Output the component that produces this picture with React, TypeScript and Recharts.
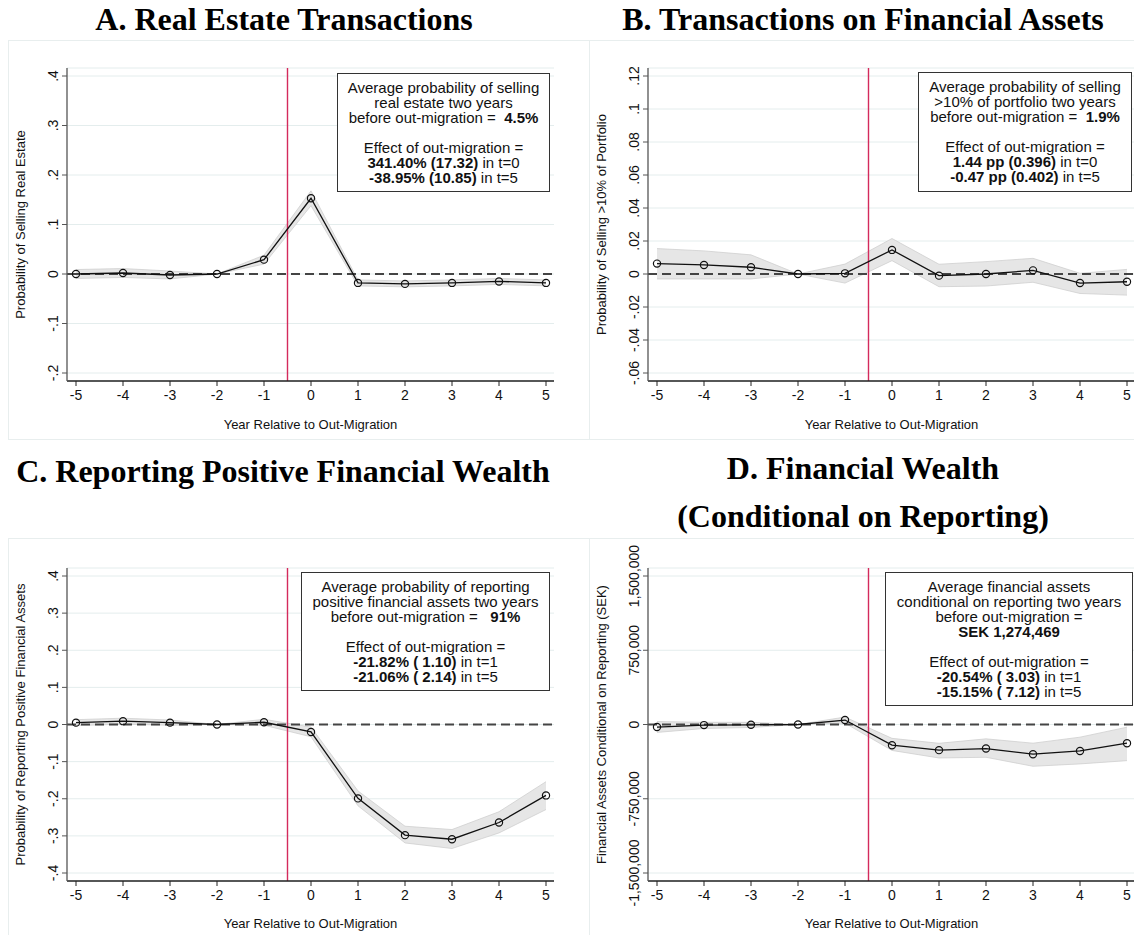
import {
  Area,
  CartesianGrid,
  ComposedChart,
  Line,
  ReferenceLine,
  XAxis,
  YAxis,
} from "recharts";

const years = [-5, -4, -3, -2, -1, 0, 1, 2, 3, 4, 5];

// A. real estate
const realEstateEst = [0, 0.002, -0.002, 0, 0.029, 0.153, -0.018, -0.02, -0.018, -0.015, -0.018];
const realEstateLo = [-0.009, -0.007, -0.01, 0, 0.02, 0.138, -0.024, -0.026, -0.024, -0.021, -0.024];
const realEstateHi = [0.009, 0.011, 0.006, 0, 0.038, 0.168, -0.012, -0.014, -0.012, -0.009, -0.012];
const realEstateTicks = [-0.2, -0.1, 0, 0.1, 0.2, 0.3, 0.4];

// B. financial assets sold
const portfolioEst = [0.0063, 0.0055, 0.0041, 0, 0.0004, 0.0146, -0.001, 0, 0.0022, -0.0055, -0.0047];
const portfolioLo = [-0.003, -0.003, -0.003, 0, -0.0055, 0.0081, -0.0077, -0.0073, -0.005, -0.0118, -0.0128];
const portfolioHi = [0.0154, 0.014, 0.0116, 0, 0.006, 0.0215, 0.0059, 0.0075, 0.0095, 0.0004, 0.0028];
const portfolioTicks = [-0.06, -0.04, -0.02, 0, 0.02, 0.04, 0.06, 0.08, 0.1, 0.12];

// C. reporting positive wealth
const reportingEst = [0.005, 0.009, 0.005, 0, 0.006, -0.02, -0.199, -0.298, -0.309, -0.264, -0.191];
const reportingLo = [-0.003, 0.001, -0.002, 0, -0.002, -0.033, -0.219, -0.319, -0.334, -0.292, -0.229];
const reportingHi = [0.013, 0.017, 0.012, 0, 0.014, -0.007, -0.179, -0.274, -0.283, -0.235, -0.154];
const reportingTicks = [-0.4, -0.3, -0.2, -0.1, 0, 0.1, 0.2, 0.3, 0.4];

// D. wealth conditional on reporting (SEK)
const wealthEst = [-26000, -6000, -3000, 0, 45000, -209000, -259000, -243000, -300000, -267000, -189000];
const wealthLo = [-80000, -40000, -30000, 0, 14000, -262000, -338000, -331000, -422000, -398000, -365000];
const wealthHi = [30000, 22000, 22000, 0, 75000, -140000, -190000, -145000, -189000, -128000, -27000];
const wealthTicks = [-1500000, -750000, 0, 750000, 1500000];

const boxA = ["Average probability of selling", "real estate two years", ["before out-migration =  ", "4.5%"], "", "Effect of out-migration =", ["", "341.40% (17.32)", " in t=0"], ["", "-38.95% (10.85)", " in t=5"]];
const boxB = ["Average probability of selling", ">10% of portfolio two years", ["before out-migration =  ", "1.9%"], "", "Effect of out-migration =", ["", "1.44 pp (0.396)", " in t=0"], ["", "-0.47 pp (0.402)", " in t=5"]];
const boxC = ["Average probability of reporting", "positive financial assets two years", ["before out-migration =   ", "91%"], "", "Effect of out-migration =", ["", "-21.82% ( 1.10)", " in t=1"], ["", "-21.06% ( 2.14)", " in t=5"]];
const boxD = ["Average financial assets", "conditional on reporting two years", "before out-migration =", ["", "SEK 1,274,469"], "", "Effect of out-migration =", ["", "-20.54% ( 3.03)", " in t=1"], ["", "-15.15% ( 7.12)", " in t=5"]];

const SANS = "'Liberation Sans', Arial, sans-serif";
const SERIF = "'Liberation Serif', 'Times New Roman', serif";
const RED = "#d42a5c";

const build = (est: number[], lo: number[], hi: number[]) =>
  years.map((x, i) => ({ x, est: est[i], band: [lo[i], hi[i]] }));

// stata style: .4, -.2, 0
const fmtDec = (v: number) =>
  v === 0 ? "0" : String(+v.toFixed(4)).replace(/^(-?)0\./, "$1.");
const fmtSek = (v: number) => v.toLocaleString("en-US");

function YTick(props: any) {
  const { x, y, payload, fmt } = props;
  return (
    <text
      x={x}
      y={y}
      textAnchor="middle"
      transform={`rotate(-90, ${x}, ${y})`}
      fontSize={14}
      fontFamily={SANS}
      fill="#111"
    >
      {fmt(payload.value)}
    </text>
  );
}

function XTick(props: any) {
  const { x, y, payload } = props;
  return (
    <text x={x} y={y + 12} textAnchor="middle" fontSize={14} fontFamily={SANS} fill="#111">
      {payload.value}
    </text>
  );
}

type PanelProps = {
  left: number;
  top: number;
  height: number;
  margin: { top: number; right: number; bottom: number; left: number };
  data: ReturnType<typeof build>;
  ticks: number[];
  fmt: (v: number) => string;
};

function Panel({ left, top, height, margin, data, ticks, fmt }: PanelProps) {
  return (
    <div style={{ position: "absolute", left, top }}>
      <ComposedChart width={570} height={height} data={data} margin={margin}>
        <CartesianGrid vertical={false} stroke="#e4eded" />
        <XAxis
          type="number"
          dataKey="x"
          domain={[-5, 5]}
          ticks={years}
          interval={0}
          padding={{ left: 9, right: 8 }}
          height={50}
          tickSize={5}
          tickMargin={2}
          axisLine={{ stroke: "#222", strokeWidth: 1.3 }}
          tickLine={{ stroke: "#222" }}
          tick={<XTick />}
        />
        <YAxis
          type="number"
          domain={[ticks[0], ticks[ticks.length - 1]]}
          ticks={ticks}
          interval={0}
          padding={{ top: 8, bottom: 8 }}
          width={60}
          tickSize={5}
          tickMargin={4}
          axisLine={{ stroke: "#555", strokeWidth: 1.3 }}
          tickLine={{ stroke: "#555" }}
          tick={(p: any) => <YTick {...p} fmt={fmt} />}
        />
        <Area
          type="linear"
          dataKey="band"
          fill="#e6e6e6"
          fillOpacity={1}
          stroke="#cfcfcf"
          strokeWidth={0.8}
          isAnimationActive={false}
        />
        <ReferenceLine y={0} stroke="#444" strokeWidth={2} strokeDasharray="9 5" />
        <ReferenceLine x={-0.5} stroke={RED} strokeWidth={1.4} />
        <Line
          type="linear"
          dataKey="est"
          stroke="#111"
          strokeWidth={1.3}
          dot={{ r: 3.6, fill: "none", stroke: "#111", strokeWidth: 1.2 }}
          activeDot={false}
          isAnimationActive={false}
        />
      </ComposedChart>
    </div>
  );
}

function NoteBox({ lines, left, top, width, height }: { lines: any[]; left: number; top: number; width: number; height: number }) {
  return (
    <div
      style={{
        position: "absolute",
        left,
        top,
        width,
        height,
        boxSizing: "border-box",
        border: "1px solid #333",
        background: "#fff",
        paddingTop: 6,
        fontFamily: SANS,
        fontSize: 15,
        lineHeight: "15px",
        textAlign: "center",
        color: "#111",
        whiteSpace: "pre",
      }}
    >
      {lines.map((l, i) =>
        typeof l === "string" ? (
          <div key={i}>{l || "\u00a0"}</div>
        ) : (
          <div key={i}>
            {l[0]}
            <b>{l[1]}</b>
            {l[2] ?? ""}
          </div>
        )
      )}
    </div>
  );
}

const xTitle = "Year Relative to Out-Migration";

export default function App() {
  const titleStyle = { fontFamily: SERIF, fontSize: 32, fontWeight: 700, fill: "#000" } as const;
  const axisTitle = { fontFamily: SANS, fontSize: 13, fill: "#111" } as const;
  return (
    <div
      style={{
        position: "absolute",
        left: 0,
        top: 0,
        width: 1134,
        height: 935,
        overflow: "hidden",
        background: "#fff",
      }}
    >
      <svg width={1134} height={935} style={{ position: "absolute", left: 0, top: 0 }}>
        <g fill="none" stroke="#e8eeee" strokeWidth={1}>
          <rect x={8.5} y={40.5} width={581} height={399} />
          <rect x={589.5} y={40.5} width={560} height={399} />
          <rect x={8.5} y={538.5} width={581} height={420} />
          <rect x={589.5} y={538.5} width={560} height={420} />
        </g>
        <text x={284} y={30} textAnchor="middle" {...titleStyle}>A. Real Estate Transactions</text>
        <text x={863} y={30} textAnchor="middle" {...titleStyle}>B. Transactions on Financial Assets</text>
        <text x={283} y={482} textAnchor="middle" {...titleStyle}>C. Reporting Positive Financial Wealth</text>
        <text x={863} y={479} textAnchor="middle" {...titleStyle}>D. Financial Wealth</text>
        <text x={863} y={527} textAnchor="middle" {...titleStyle}>(Conditional on Reporting)</text>

        <text x={24.5} y={224.5} textAnchor="middle" transform="rotate(-90, 24.5, 224.5)" {...axisTitle}>Probability of Selling Real Estate</text>
        <text x={606} y={224.5} textAnchor="middle" transform="rotate(-90, 606, 224.5)" {...axisTitle}>Probability of Selling &gt;10% of Portfolio</text>
        <text x={24.5} y={724.5} textAnchor="middle" transform="rotate(-90, 24.5, 724.5)" {...axisTitle}>Probability of Reporting Positive Financial Assets</text>
        <text x={606} y={724.5} textAnchor="middle" transform="rotate(-90, 606, 724.5)" {...axisTitle}>Financial Assets Conditional on Reporting (SEK)</text>

        <text x={310.5} y={429} textAnchor="middle" {...axisTitle}>{xTitle}</text>
        <text x={891.5} y={429} textAnchor="middle" {...axisTitle}>{xTitle}</text>
        <text x={310.5} y={928} textAnchor="middle" {...axisTitle}>{xTitle}</text>
        <text x={891.5} y={928} textAnchor="middle" {...axisTitle}>{xTitle}</text>
      </svg>

      <Panel
        left={0}
        top={40}
        height={410}
        margin={{ top: 28, right: 16, bottom: 19, left: 7 }}
        data={build(realEstateEst, realEstateLo, realEstateHi)}
        ticks={realEstateTicks}
        fmt={fmtDec}
      />
      <Panel
        left={570}
        top={40}
        height={410}
        margin={{ top: 28, right: 5, bottom: 19, left: 18 }}
        data={build(portfolioEst, portfolioLo, portfolioHi)}
        ticks={portfolioTicks}
        fmt={fmtDec}
      />
      <Panel
        left={0}
        top={500}
        height={435}
        margin={{ top: 68, right: 16, bottom: 4, left: 7 }}
        data={build(reportingEst, reportingLo, reportingHi)}
        ticks={reportingTicks}
        fmt={fmtDec}
      />
      <Panel
        left={570}
        top={500}
        height={435}
        margin={{ top: 68, right: 5, bottom: 4, left: 18 }}
        data={build(wealthEst, wealthLo, wealthHi)}
        ticks={wealthTicks}
        fmt={fmtSek}
      />

      <NoteBox lines={boxA} left={337} top={73} width={213} height={119} />
      <NoteBox lines={boxB} left={918} top={72} width={214} height={120} />
      <NoteBox lines={boxC} left={301} top={572} width={249} height={119} />
      <NoteBox lines={boxD} left={885} top={572} width={248} height={134} />
    </div>
  );
}
